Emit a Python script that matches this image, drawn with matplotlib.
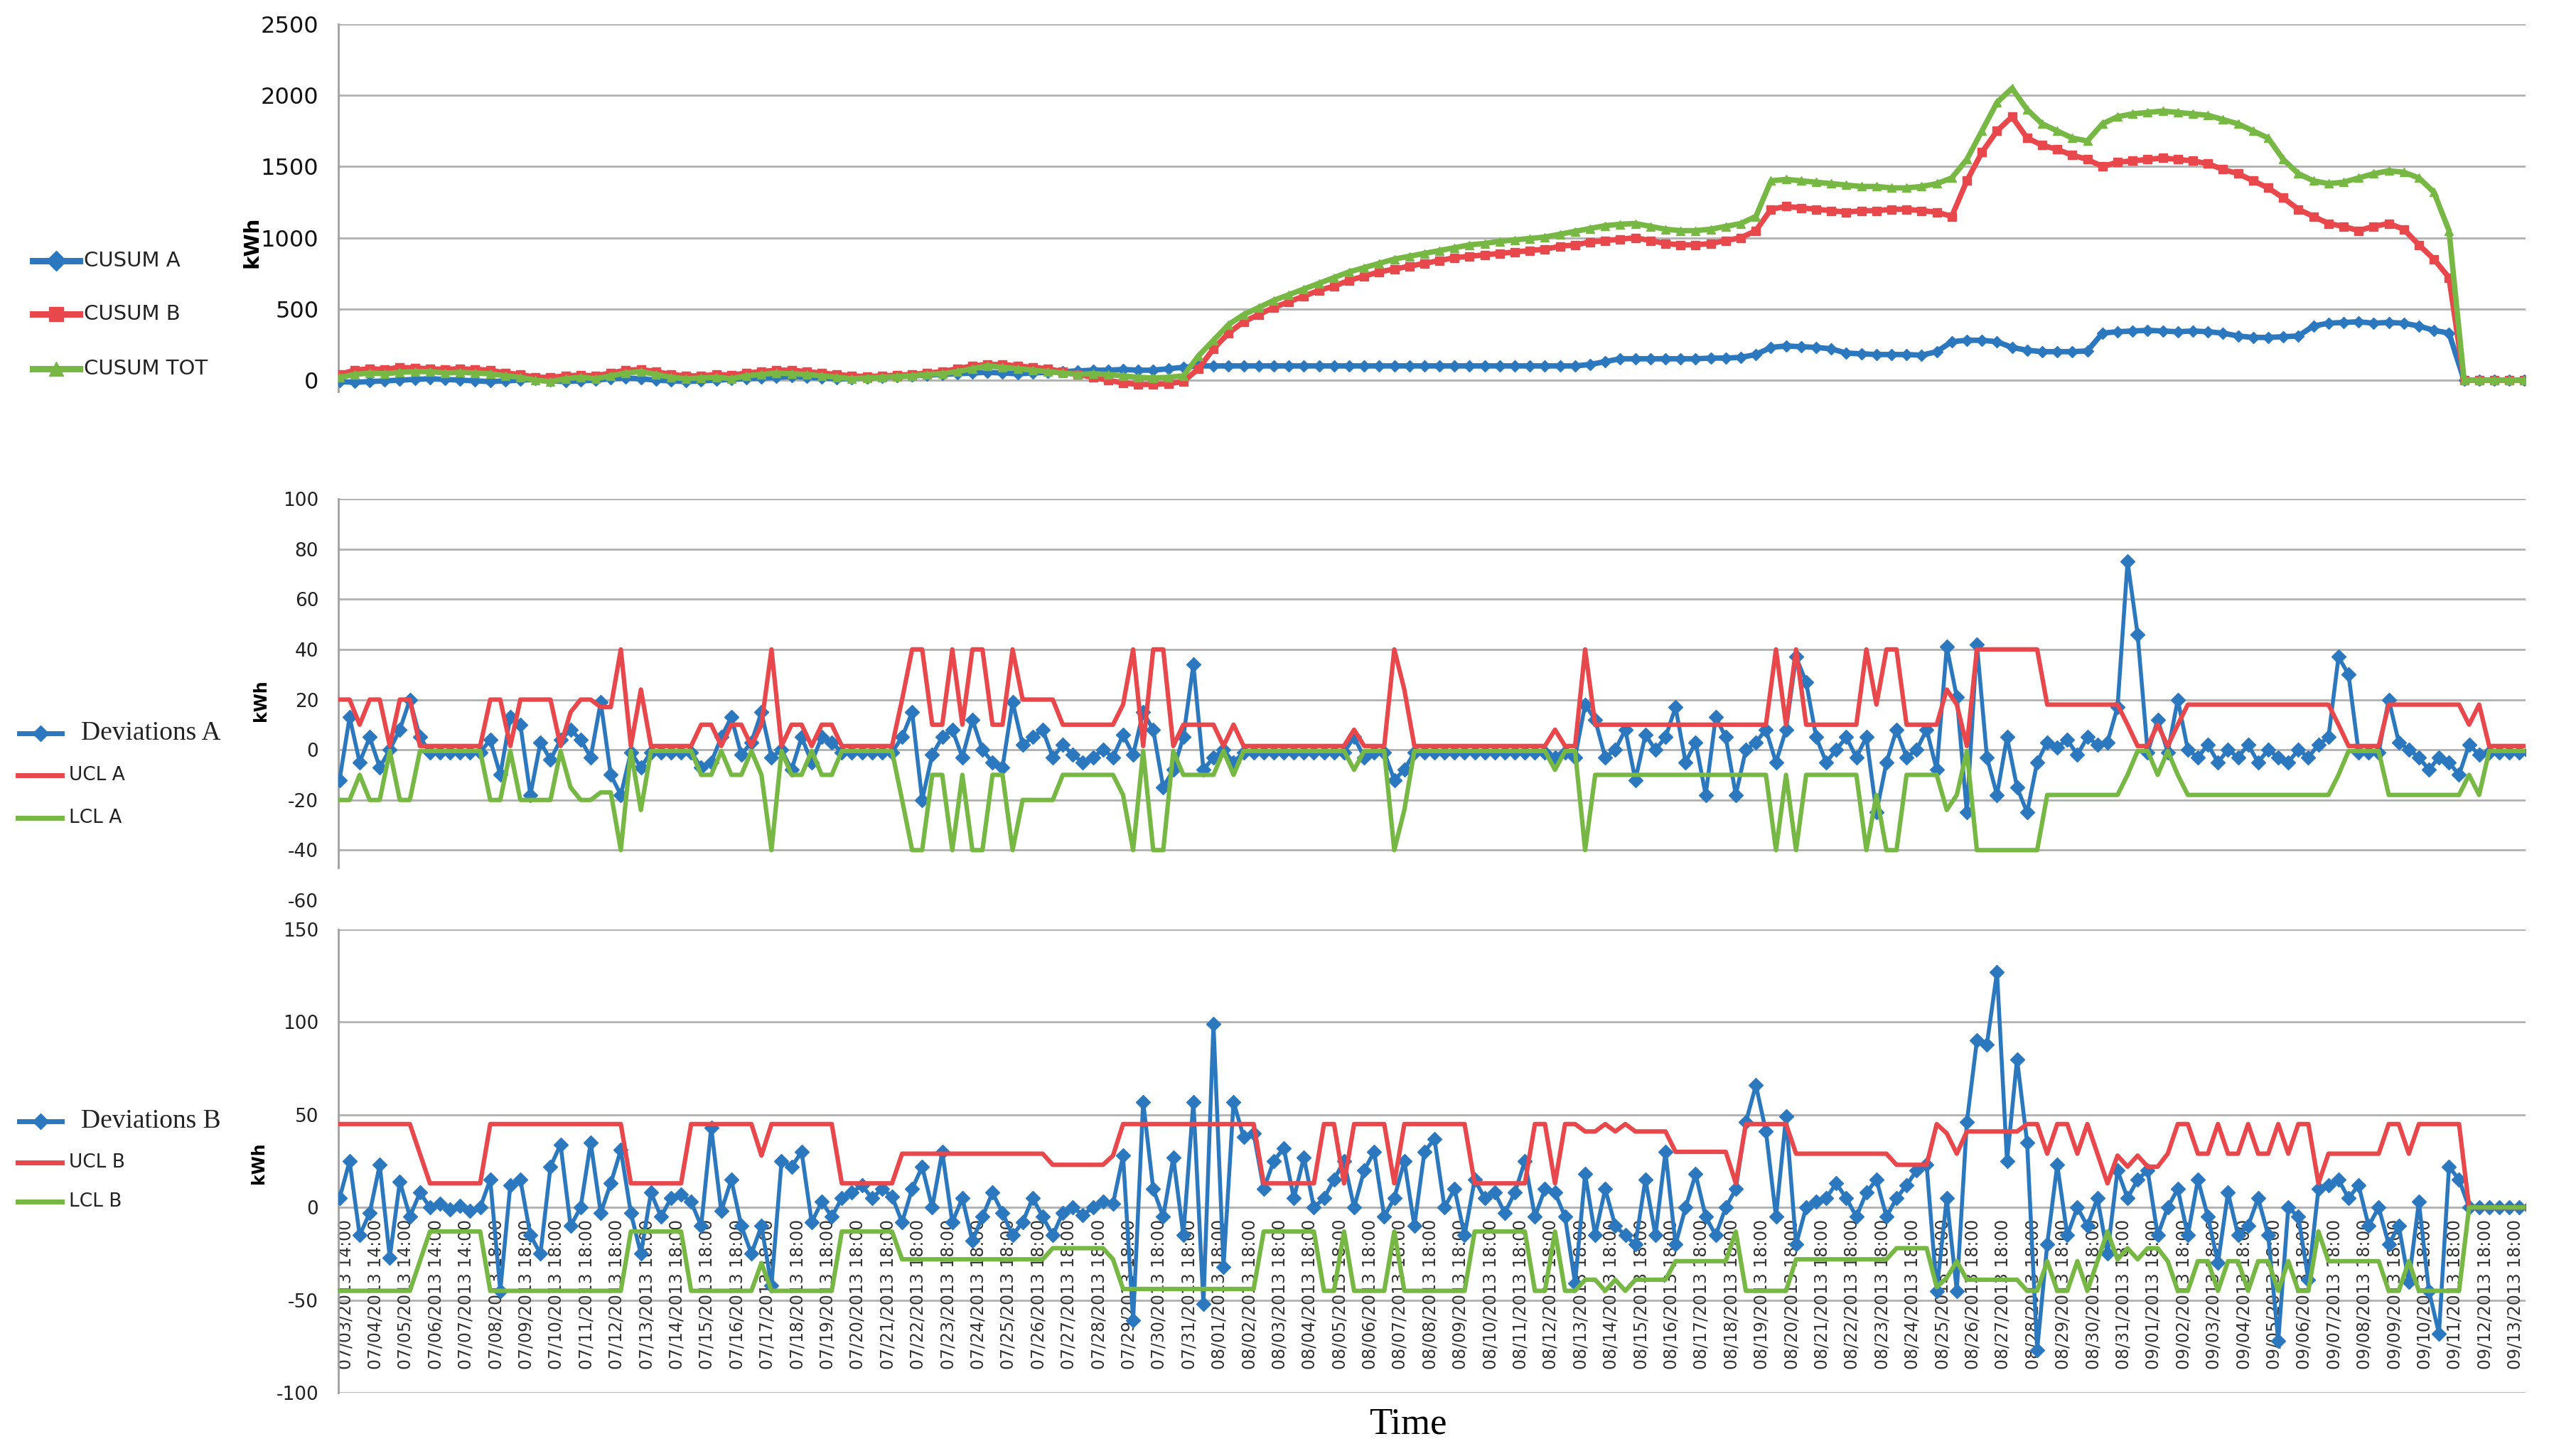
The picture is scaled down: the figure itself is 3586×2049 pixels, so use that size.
import matplotlib
matplotlib.use("Agg")
import matplotlib.pyplot as plt
from matplotlib.lines import Line2D
import numpy as np

W, H, DPI = 3587, 2049, 100

# ---------------- x axis categories (one label per day) ----------------
label_dates = ["07/03", "07/04", "07/05", "07/06", "07/07", "07/08", "07/09", "07/10", "07/11", "07/12",
               "07/13", "07/14", "07/15", "07/16", "07/17", "07/18", "07/19", "07/20", "07/21", "07/22",
               "07/23", "07/24", "07/25", "07/26", "07/27", "07/28", "07/29", "07/30", "07/31", "08/01",
               "08/02", "08/03", "08/04", "08/05", "08/06", "08/07", "08/08", "08/09", "08/10", "08/11",
               "08/12", "08/13", "08/14", "08/15", "08/16", "08/17", "08/18", "08/19", "08/20", "08/21",
               "08/22", "08/23", "08/24", "08/25", "08/26", "08/27", "08/28", "08/29", "08/30", "08/31",
               "09/01", "09/02", "09/03", "09/04", "09/05", "09/06", "09/07", "09/08", "09/09", "09/10",
               "09/11", "09/12", "09/13"]
label_times = ["14:00"] * 5 + ["18:00"] * 68

# ---------------- CUSUM panel (2 readings per day) ----------------
cusum_a = [-10, -15, -10, -5, 0, 5, 10, 5, 0, -5, -10, -5, 0, 5, -5, -10, -5, 0, 10, 15,
           10, 0, -5, -10, -5, 0, 5, 10, 15, 20, 25, 20, 15, 10, 10, 15, 20, 25, 30, 35,
           40, 45, 50, 55, 50, 45, 50, 55, 60, 65, 70, 70, 75, 70, 70, 80, 90, 100, 100, 100,
           100, 100, 100, 100, 100, 100, 100, 100, 100, 100, 100, 100, 100, 100, 100, 100, 100, 100, 100, 100,
           100, 100, 100, 110, 130, 150, 150, 150, 150, 150, 150, 155, 155, 160, 180, 230, 240, 235, 230, 220,
           190, 185, 180, 180, 180, 175, 200, 270, 280, 280, 270, 230, 210, 200, 200, 200, 205, 330, 340, 345,
           350, 345, 340, 345, 340, 330, 310, 300, 300, 305, 310, 380, 400, 405, 410, 400, 405, 400, 380, 350,
           330, 0, 0, 0, 0, 0]
cusum_b = [40, 70, 80, 75, 90, 85, 80, 75, 80, 75, 70, 50, 40, 20, 20, 30, 35, 30, 50, 70,
           75, 60, 40, 30, 30, 40, 35, 50, 60, 70, 70, 60, 50, 40, 30, 25, 30, 35, 40, 50,
           60, 80, 100, 110, 110, 100, 90, 80, 60, 40, 20, 0, -20, -30, -30, -25, -10, 80, 220, 330,
           410, 460, 510, 550, 590, 630, 660, 700, 730, 760, 780, 800, 820, 840, 860, 870, 880, 890, 900, 910,
           920, 940, 950, 970, 980, 990, 1000, 980, 960, 950, 950, 960, 980, 1000, 1050, 1200, 1220, 1210, 1200, 1190,
           1180, 1190, 1190, 1200, 1200, 1190, 1180, 1150, 1400, 1600, 1750, 1850, 1700, 1650, 1620, 1580, 1550, 1500, 1530, 1540,
           1550, 1560, 1550, 1540, 1520, 1480, 1450, 1400, 1350, 1280, 1200, 1150, 1100, 1080, 1050, 1080, 1100, 1060, 950, 850,
           720, 0, 0, 0, 0, 0]
cusum_tot = [20, 40, 50, 45, 55, 60, 60, 50, 55, 50, 45, 30, 20, 0, -10, 10, 20, 10, 30, 50,
             60, 40, 20, 10, 15, 20, 10, 30, 40, 50, 45, 40, 30, 20, 10, 15, 20, 25, 30, 40,
             45, 60, 80, 100, 90, 80, 70, 60, 50, 40, 45, 40, 30, 20, 15, 20, 30, 170, 280, 390,
             460, 510, 560, 600, 640, 680, 720, 760, 790, 820, 850, 870, 890, 910, 930, 950, 960, 975, 985, 995,
             1005, 1025, 1045, 1065, 1085, 1095, 1100, 1080, 1060, 1050, 1050, 1060, 1080, 1100, 1150, 1400, 1410, 1400, 1390, 1380,
             1370, 1360, 1360, 1350, 1350, 1360, 1380, 1420, 1550, 1750, 1950, 2050, 1900, 1800, 1750, 1700, 1680, 1800, 1850, 1870,
             1880, 1890, 1880, 1870, 1860, 1830, 1800, 1750, 1700, 1550, 1450, 1400, 1380, 1390, 1420, 1450, 1470, 1460, 1420, 1320,
             1050, 0, 0, 0, 0, 0]

# ---------------- Deviations A panel (3 readings per day) ----------------
dev_a = [-12, 13, -5, 5, -7, 0, 8, 20, 5, -1, -1, -1, -1, -1, -1,
         4, -10, 13, 10, -18, 3, -4, 4, 8, 4, -3, 19, -10, -18, -1,
         -7, -1, -1, -1, -1, -1, -7, -5, 5, 13, -2, 3, 15, -3, 0,
         -8, 5, -5, 5, 3, -1, -1, -1, -1, -1, -1, 5, 15, -20, -2,
         5, 8, -3, 12, 0, -5, -7, 19, 2, 5, 8, -3, 2, -2, -5,
         -3, 0, -3, 6, -2, 15, 8, -15, -8, 5, 34, -8, -3, 0, -5,
         -1, -1, -1, -1, -1, -1, -1, -1, -1, -1, -1, 5, -3, -1, -1,
         -12, -8, -1, -1, -1, -1, -1, -1, -1, -1, -1, -1, -1, -1, -1,
         -1, -3, -1, -3, 18, 12, -3, 0, 8, -12, 6, 0, 5, 17, -5,
         3, -18, 13, 5, -18, 0, 3, 8, -5, 8, 37, 27, 5, -5, 0,
         5, -3, 5, -25, -5, 8, -3, 0, 8, -8, 41, 21, -25, 42, -3,
         -18, 5, -15, -25, -5, 3, 1, 4, -2, 5, 2, 3, 17, 75, 46,
         -1, 12, -1, 20, 0, -3, 2, -5, 0, -3, 2, -5, 0, -3, -5,
         0, -3, 2, 5, 37, 30, -1, -1, -1, 20, 3, 0, -3, -8, -3,
         -5, -10, 2, -2, -1, -1, -1, -1, -1]
ucl_a = [20, 20, 10, 20, 20, 1.5, 20, 20, 1.5, 1.5, 1.5, 1.5, 1.5, 1.5, 1.5,
         20, 20, 1.5, 20, 20, 20, 20, 1.5, 15, 20, 20, 17, 17, 40, 1.5,
         24, 1.5, 1.5, 1.5, 1.5, 1.5, 10, 10, 1.5, 10, 10, 1.5, 10, 40, 1.5,
         10, 10, 1.5, 10, 10, 1.5, 1.5, 1.5, 1.5, 1.5, 1.5, 20, 40, 40, 10,
         10, 40, 10, 40, 40, 10, 10, 40, 20, 20, 20, 20, 10, 10, 10,
         10, 10, 10, 18, 40, 1.5, 40, 40, 1.5, 10, 10, 10, 10, 1.5, 10,
         1.5, 1.5, 1.5, 1.5, 1.5, 1.5, 1.5, 1.5, 1.5, 1.5, 1.5, 8, 1.5, 1.5, 1.5,
         40, 24, 1.5, 1.5, 1.5, 1.5, 1.5, 1.5, 1.5, 1.5, 1.5, 1.5, 1.5, 1.5, 1.5,
         1.5, 8, 1.5, 1.5, 40, 10, 10, 10, 10, 10, 10, 10, 10, 10, 10,
         10, 10, 10, 10, 10, 10, 10, 10, 40, 10, 40, 10, 10, 10, 10,
         10, 10, 40, 18, 40, 40, 10, 10, 10, 10, 24, 18, 1.5, 40, 40,
         40, 40, 40, 40, 40, 18, 18, 18, 18, 18, 18, 18, 18, 10, 1.5,
         1.5, 10, 1.5, 10, 18, 18, 18, 18, 18, 18, 18, 18, 18, 18, 18,
         18, 18, 18, 18, 10, 1.5, 1.5, 1.5, 1.5, 18, 18, 18, 18, 18, 18,
         18, 18, 10, 18, 1.5, 1.5, 1.5, 1.5, 1.5]
lcl_a = [-20, -20, -10, -20, -20, -0.5, -20, -20, -0.5, -0.5, -0.5, -0.5, -0.5, -0.5, -0.5,
         -20, -20, -0.5, -20, -20, -20, -20, -0.5, -15, -20, -20, -17, -17, -40, -0.5,
         -24, -0.5, -0.5, -0.5, -0.5, -0.5, -10, -10, -0.5, -10, -10, -0.5, -10, -40, -0.5,
         -10, -10, -0.5, -10, -10, -0.5, -0.5, -0.5, -0.5, -0.5, -0.5, -20, -40, -40, -10,
         -10, -40, -10, -40, -40, -10, -10, -40, -20, -20, -20, -20, -10, -10, -10,
         -10, -10, -10, -18, -40, -0.5, -40, -40, -0.5, -10, -10, -10, -10, -0.5, -10,
         -0.5, -0.5, -0.5, -0.5, -0.5, -0.5, -0.5, -0.5, -0.5, -0.5, -0.5, -8, -0.5, -0.5, -0.5,
         -40, -24, -0.5, -0.5, -0.5, -0.5, -0.5, -0.5, -0.5, -0.5, -0.5, -0.5, -0.5, -0.5, -0.5,
         -0.5, -8, -0.5, -0.5, -40, -10, -10, -10, -10, -10, -10, -10, -10, -10, -10,
         -10, -10, -10, -10, -10, -10, -10, -10, -40, -10, -40, -10, -10, -10, -10,
         -10, -10, -40, -18, -40, -40, -10, -10, -10, -10, -24, -18, -0.5, -40, -40,
         -40, -40, -40, -40, -40, -18, -18, -18, -18, -18, -18, -18, -18, -10, -0.5,
         -0.5, -10, -0.5, -10, -18, -18, -18, -18, -18, -18, -18, -18, -18, -18, -18,
         -18, -18, -18, -18, -10, -0.5, -0.5, -0.5, -0.5, -18, -18, -18, -18, -18, -18,
         -18, -18, -10, -18, -0.5, -0.5, -0.5, -0.5, -0.5]

# ---------------- Deviations B panel (3 readings per day) ----------------
dev_b = [5, 25, -15, -3, 23, -27, 14, -5, 8, 0, 2, -1, 1, -2, 0,
         15, -45, 12, 15, -15, -25, 22, 34, -10, 0, 35, -3, 13, 31, -3,
         -25, 8, -5, 5, 7, 3, -10, 43, -2, 15, -10, -25, -10, -42, 25,
         22, 30, -8, 3, -5, 5, 8, 12, 5, 10, 6, -8, 10, 22, 0,
         30, -8, 5, -18, -5, 8, -3, -15, -8, 5, -5, -15, -3, 0, -4,
         0, 3, 2, 28, -61, 57, 10, -5, 27, -15, 57, -52, 99, -32, 57,
         38, 40, 10, 25, 32, 5, 27, 0, 5, 15, 25, 0, 20, 30, -5,
         5, 25, -10, 30, 37, 0, 10, -15, 15, 5, 8, -3, 8, 25, -5,
         10, 8, -5, -41, 18, -15, 10, -10, -15, -20, 15, -15, 30, -20, 0,
         18, -5, -15, 0, 10, 46, 66, 41, -5, 49, -20, 0, 3, 5, 13,
         5, -5, 8, 15, -5, 5, 12, 20, 23, -45, 5, -45, 46, 90, 88,
         127, 25, 80, 35, -77, -20, 23, -15, 0, -10, 5, -25, 20, 5, 15,
         20, -15, 0, 10, -15, 15, -5, -30, 8, -15, -10, 5, -15, -72, 0,
         -5, -39, 10, 12, 15, 5, 12, -10, 0, -20, -10, -40, 3, -45, -68,
         22, 15, 0, 0, 0, 0, 0, 0, 0]
ucl_b = [45, 45, 45, 45, 45, 45, 45, 45, 29, 13, 13, 13, 13, 13, 13,
         45, 45, 45, 45, 45, 45, 45, 45, 45, 45, 45, 45, 45, 45, 13,
         13, 13, 13, 13, 13, 45, 45, 45, 45, 45, 45, 45, 28, 45, 45,
         45, 45, 45, 45, 45, 13, 13, 13, 13, 13, 13, 29, 29, 29, 29,
         29, 29, 29, 29, 29, 29, 29, 29, 29, 29, 29, 23, 23, 23, 23,
         23, 23, 28, 45, 45, 45, 45, 45, 45, 45, 45, 45, 45, 45, 45,
         45, 45, 13, 13, 13, 13, 13, 13, 45, 45, 13, 45, 45, 45, 45,
         13, 45, 45, 45, 45, 45, 45, 45, 13, 13, 13, 13, 13, 13, 45,
         45, 13, 45, 45, 41, 41, 45, 41, 45, 41, 41, 41, 41, 30, 30,
         30, 30, 30, 30, 13, 45, 45, 45, 45, 45, 29, 29, 29, 29, 29,
         29, 29, 29, 29, 29, 23, 23, 23, 23, 45, 40, 29, 41, 41, 41,
         41, 41, 41, 45, 45, 29, 45, 45, 29, 45, 29, 13, 28, 22, 28,
         22, 22, 29, 45, 45, 29, 29, 45, 29, 29, 45, 29, 29, 45, 29,
         45, 45, 13, 29, 29, 29, 29, 29, 29, 45, 45, 29, 45, 45, 45,
         45, 45, 0, 0, 0, 0, 0, 0, 0]
lcl_b = [-45, -45, -45, -45, -45, -45, -45, -45, -29, -13, -13, -13, -13, -13, -13,
         -45, -45, -45, -45, -45, -45, -45, -45, -45, -45, -45, -45, -45, -45, -13,
         -13, -13, -13, -13, -13, -45, -45, -45, -45, -45, -45, -45, -30, -45, -45,
         -45, -45, -45, -45, -45, -13, -13, -13, -13, -13, -13, -28, -28, -28, -28,
         -28, -28, -28, -28, -28, -28, -28, -28, -28, -28, -28, -22, -22, -22, -22,
         -22, -22, -28, -44, -44, -44, -44, -44, -44, -44, -44, -44, -44, -44, -44,
         -44, -44, -13, -13, -13, -13, -13, -13, -45, -45, -13, -45, -45, -45, -45,
         -13, -45, -45, -45, -45, -45, -45, -45, -13, -13, -13, -13, -13, -13, -45,
         -45, -13, -45, -45, -39, -39, -45, -39, -45, -39, -39, -39, -39, -29, -29,
         -29, -29, -29, -29, -13, -45, -45, -45, -45, -45, -28, -28, -28, -28, -28,
         -28, -28, -28, -28, -28, -22, -22, -22, -22, -43, -38, -29, -39, -39, -39,
         -39, -39, -39, -45, -45, -29, -45, -45, -29, -45, -29, -13, -28, -22, -28,
         -22, -22, -29, -45, -45, -29, -29, -45, -29, -29, -45, -29, -29, -45, -29,
         -45, -45, -13, -29, -29, -29, -29, -29, -29, -45, -45, -29, -45, -45, -45,
         -45, -45, 0, 0, 0, 0, 0, 0, 0]

top_names = ["CUSUM A", "CUSUM B", "CUSUM TOT"]
mid_names = ["Deviations A", "UCL A", "LCL A"]
bot_names = ["Deviations B", "UCL B", "LCL B"]

# ---------------- styling ----------------
BLUE, RED, GREEN = "#2b78be", "#e8474c", "#76b843"
GRID = "#b0b0b0"
SPINE = "#a0a0a0"
NARROW = ["Liberation Sans Narrow", "DejaVu Sans"]

fig = plt.figure(figsize=(W / DPI, H / DPI), dpi=DPI)


def fx(px):
    return px / W


def fy(px):
    return 1 - px / H


L, R = 476, 3553
XMIN, XMAX = -0.24, 72.34


def make_axes(top_px, bot_px):
    ax = fig.add_axes([fx(L), fy(bot_px), fx(R) - fx(L), (bot_px - top_px) / H])
    ax.set_xlim(XMIN, XMAX)
    for s in ["top", "right", "bottom"]:
        ax.spines[s].set_visible(False)
    ax.spines["left"].set_color(SPINE)
    ax.spines["left"].set_linewidth(2)
    ax.spines["bottom"].set_position(("data", 0))
    ax.tick_params(axis="y", length=0, pad=20)
    ax.tick_params(axis="x", length=0)
    return ax


# top panel
ax1 = make_axes(34, 551)
ax1.set_ylim(-80, 2500)
ticks1 = [0, 500, 1000, 1500, 2000, 2500]
for v in ticks1:
    ax1.axhline(v, color=GRID, lw=2, zorder=0)
ax1.set_yticks(ticks1)
ax1.set_yticklabels([str(v) for v in ticks1], family=NARROW, fontsize=23, color="#111111")
ax1.set_xticks([])
tc = -0.2 + 0.5 * np.arange(len(cusum_a))
ax1.plot(tc, cusum_a, color=BLUE, lw=5.5, marker="D", ms=8, zorder=3)
tc = -0.2 + 0.5 * np.arange(len(cusum_b))
ax1.plot(tc, cusum_b, color=RED, lw=5.5, marker="s", ms=8, zorder=4)
tc = -0.2 + 0.5 * np.arange(len(cusum_tot))
ax1.plot(tc, cusum_tot, color=GREEN, lw=5.5, marker="^", ms=9, zorder=5)

# middle panel
ax2 = make_axes(702, 1267)
ax2.set_ylim(-60, 100)
ax2.spines["left"].set_bounds(-47, 100)
ticks2 = [-60, -40, -20, 0, 20, 40, 60, 80, 100]
for v in ticks2[1:]:
    ax2.axhline(v, color=GRID, lw=2, zorder=0)
ax2.set_yticks(ticks2)
ax2.set_yticklabels([str(v) for v in ticks2], family="DejaVu Sans", fontsize=19, color="#222222")
ax2.set_xticks([])
td = -0.2 + np.arange(len(dev_a)) / 3
ax2.plot(td, dev_a, color=BLUE, lw=4, marker="D", ms=10, zorder=3)
td = -0.2 + np.arange(len(ucl_a)) / 3
ax2.plot(td, ucl_a, color=RED, lw=4.5, zorder=4)
td = -0.2 + np.arange(len(lcl_a)) / 3
ax2.plot(td, lcl_a, color=GREEN, lw=4.5, zorder=4)

# bottom panel
ax3 = make_axes(1308, 1960)
ax3.set_ylim(-100, 150)
ticks3 = [-100, -50, 0, 50, 100, 150]
for v in ticks3:
    ax3.axhline(v, color=GRID, lw=2, zorder=0)
ax3.set_yticks(ticks3)
ax3.set_yticklabels([str(v) for v in ticks3], family="DejaVu Sans", fontsize=19, color="#222222")
ax3.set_xticks(np.arange(len(label_dates)))
ax3.set_xticklabels([f"{d}/2013 {t}" for d, t in zip(label_dates, label_times)],
                    rotation=90, family="DejaVu Sans", fontsize=17, color="#333333")
ax3.tick_params(axis="x", length=0, pad=12)
td = -0.2 + np.arange(len(dev_b)) / 3
ax3.plot(td, dev_b, color=BLUE, lw=4, marker="D", ms=10, zorder=3)
td = -0.2 + np.arange(len(ucl_b)) / 3
ax3.plot(td, ucl_b, color=RED, lw=4.5, zorder=4)
td = -0.2 + np.arange(len(lcl_b)) / 3
ax3.plot(td, lcl_b, color=GREEN, lw=4.5, zorder=4)

# y axis titles
for (xp, yp, size) in [(355, 341, 21), (367, 986, 17), (364, 1637, 17)]:
    fig.text(fx(xp), fy(yp), "kWh", rotation=90, ha="center", va="center",
             fontsize=size, fontweight="bold", family="DejaVu Sans")


# legends (drawn at left of each panel)
def legend_entry(y, x0, x1, color, marker, ms, lw, label, tx, family, size):
    ln = Line2D([fx(x0), fx((x0 + x1) / 2), fx(x1)], [fy(y)] * 3, transform=fig.transFigure,
                color=color, lw=lw, marker=marker, ms=ms, markevery=[1])
    fig.add_artist(ln)
    fig.text(fx(tx), fy(y), label, ha="left", va="center", family=family, fontsize=size,
             color="#222222")


legend_entry(367, 46, 112, BLUE, "D", 14, 6.5, top_names[0], 118, NARROW, 21)
legend_entry(442, 46, 112, RED, "s", 15, 6.5, top_names[1], 118, NARROW, 21)
legend_entry(519, 46, 112, GREEN, "^", 15, 6.5, top_names[2], 118, NARROW, 21)

legend_entry(1032, 27, 87, BLUE, "D", 11, 5, mid_names[0], 114, "Liberation Serif", 27)
legend_entry(1091, 25, 87, RED, None, 0, 5, mid_names[1], 97, "DejaVu Sans", 19)
legend_entry(1151, 25, 87, GREEN, None, 0, 5, mid_names[2], 97, "DejaVu Sans", 19)

legend_entry(1578, 27, 87, BLUE, "D", 11, 5, bot_names[0], 114, "Liberation Serif", 27)
legend_entry(1636, 25, 87, RED, None, 0, 5, bot_names[1], 97, "DejaVu Sans", 19)
legend_entry(1691, 25, 87, GREEN, None, 0, 5, bot_names[2], 97, "DejaVu Sans", 19)

fig.text(fx(1981), fy(2004), "Time", ha="center", va="center", family="Liberation Serif", fontsize=38)

fig.savefig("out.png", dpi=DPI)
